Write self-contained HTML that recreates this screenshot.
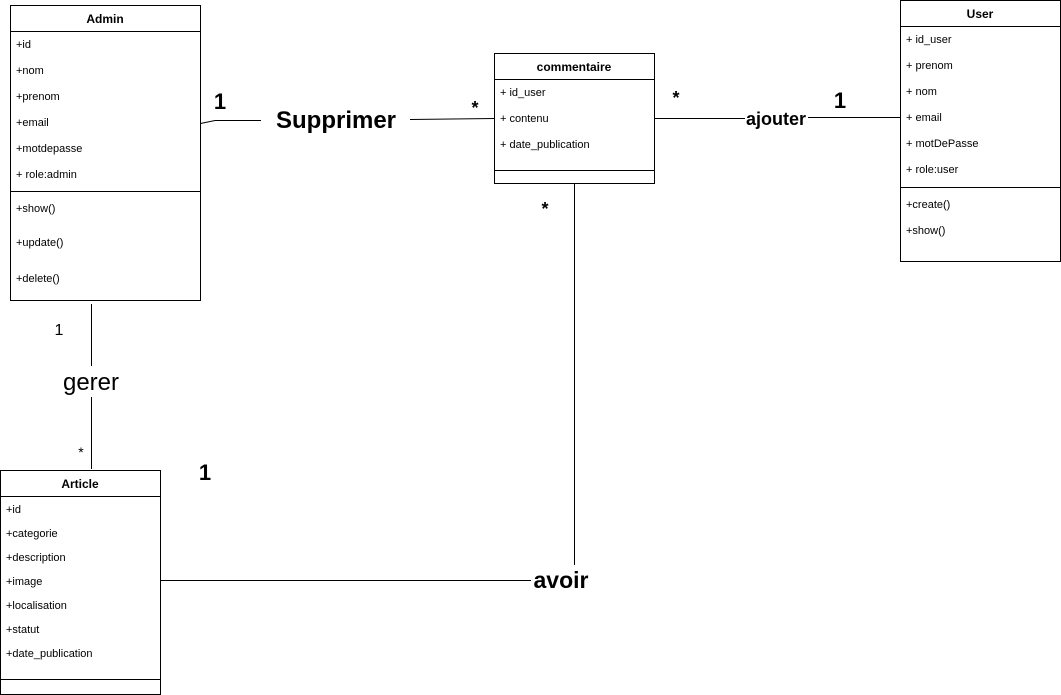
<!DOCTYPE html>
<html><head><meta charset="utf-8"><style>
html,body{margin:0;padding:0;background:#fff;}
svg{display:block;}
text{font-family:"Liberation Sans",Arial,sans-serif;fill:#000;}
.a{font-size:11px;}
.h{font-size:12px;font-weight:bold;}
</style></head><body>
<svg width="1061" height="695" viewBox="0 0 1061 695">
<g fill="none" stroke="#000" stroke-width="1">
<rect x="10.5" y="5.5" width="190" height="295"/>
<line x1="10.5" y1="31.5" x2="200.5" y2="31.5"/>
<line x1="10.5" y1="191.5" x2="200.5" y2="191.5"/>
<rect x="494.5" y="53.5" width="160" height="130"/>
<line x1="494.5" y1="79.5" x2="654.5" y2="79.5"/>
<line x1="494.5" y1="170.5" x2="654.5" y2="170.5"/>
<rect x="900.5" y="0.5" width="160" height="261"/>
<line x1="900.5" y1="26.5" x2="1060.5" y2="26.5"/>
<line x1="900.5" y1="187.5" x2="1060.5" y2="187.5"/>
<rect x="0.5" y="470.5" width="160" height="224"/>
<line x1="0.5" y1="496.5" x2="160.5" y2="496.5"/>
<line x1="0.5" y1="679.5" x2="160.5" y2="679.5"/>
<polyline points="200.5,123.5 215,120.5 261,120.5"/>
<line x1="410" y1="119.5" x2="494" y2="118.5"/>
<line x1="654" y1="118.5" x2="745" y2="118.5"/>
<line x1="808" y1="117.5" x2="900" y2="117.5"/>
<line x1="91.5" y1="304" x2="91.5" y2="366"/>
<line x1="91.5" y1="397" x2="91.5" y2="469"/>
<line x1="574.5" y1="183" x2="574.5" y2="565"/>
<line x1="160" y1="580.5" x2="531" y2="580.5"/>
</g>
<text class="h" x="105" y="23" text-anchor="middle">Admin</text>
<text class="a" x="16" y="48">+id</text>
<text class="a" x="16" y="74">+nom</text>
<text class="a" x="16" y="100">+prenom</text>
<text class="a" x="16" y="126">+email</text>
<text class="a" x="16" y="152">+motdepasse</text>
<text class="a" x="16" y="178">+ role:admin</text>
<text class="a" x="16" y="212">+show()</text>
<text class="a" x="16" y="246">+update()</text>
<text class="a" x="16" y="282">+delete()</text>
<text class="h" x="574" y="71" text-anchor="middle">commentaire</text>
<text class="a" x="500" y="96">+ id_user</text>
<text class="a" x="500" y="122">+ contenu</text>
<text class="a" x="500" y="148">+ date_publication</text>
<text class="h" x="980" y="18" text-anchor="middle">User</text>
<text class="a" x="906" y="43">+ id_user</text>
<text class="a" x="906" y="69">+ prenom</text>
<text class="a" x="906" y="95">+ nom</text>
<text class="a" x="906" y="121">+ email</text>
<text class="a" x="906" y="147">+ motDePasse</text>
<text class="a" x="906" y="173">+ role:user</text>
<text class="a" x="906" y="208">+create()</text>
<text class="a" x="906" y="234">+show()</text>
<text class="h" x="80" y="488" text-anchor="middle">Article</text>
<text class="a" x="6" y="513">+id</text>
<text class="a" x="6" y="537">+categorie</text>
<text class="a" x="6" y="561">+description</text>
<text class="a" x="6" y="585">+image</text>
<text class="a" x="6" y="609">+localisation</text>
<text class="a" x="6" y="633">+statut</text>
<text class="a" x="6" y="657">+date_publication</text>
<text x="336" y="128" text-anchor="middle" style="font-size:24px;font-weight:bold">Supprimer</text>
<text x="776" y="125" text-anchor="middle" style="font-size:18px;font-weight:bold">ajouter</text>
<text x="91" y="390" text-anchor="middle" style="font-size:24px">gerer</text>
<text x="561" y="588" text-anchor="middle" style="font-size:23px;font-weight:bold">avoir</text>
<text x="220" y="109" text-anchor="middle" style="font-size:22px;font-weight:bold">1</text>
<text x="475" y="114" text-anchor="middle" style="font-size:18px;font-weight:bold">*</text>
<text x="676" y="104" text-anchor="middle" style="font-size:18px;font-weight:bold">*</text>
<text x="840" y="108" text-anchor="middle" style="font-size:22px;font-weight:bold">1</text>
<text x="545" y="215" text-anchor="middle" style="font-size:18px;font-weight:bold">*</text>
<text x="59" y="335" text-anchor="middle" style="font-size:16px">1</text>
<text x="81" y="457" text-anchor="middle" style="font-size:14px">*</text>
<text x="205" y="480" text-anchor="middle" style="font-size:22px;font-weight:bold">1</text>
</svg>
</body></html>
